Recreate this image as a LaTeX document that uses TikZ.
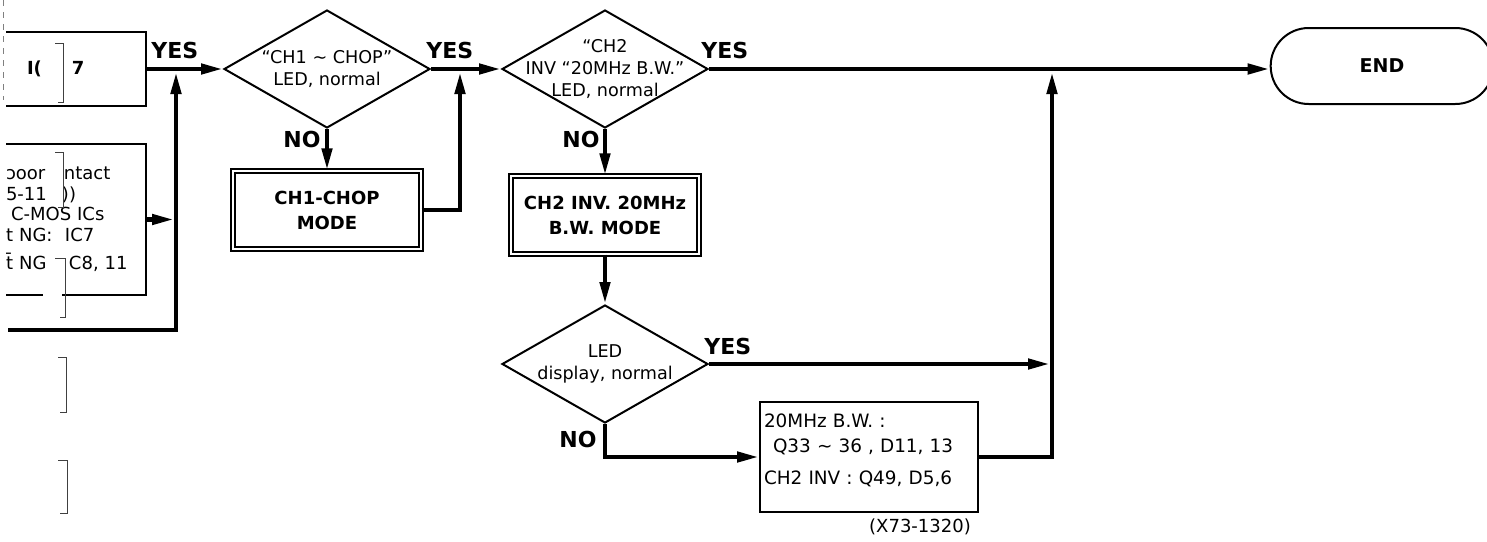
\documentclass[tikz,border=0pt]{standalone}
\usepackage{fontspec}
\setmainfont{DejaVu Sans}
\usepackage{tikz}
\usetikzlibrary{shapes.geometric, shapes.misc, arrows.meta, positioning}

\begin{document}
\begin{tikzpicture}[
    x=0.5pt, y=-0.5pt,
    decision/.style={
        diamond, draw=black, line width=1pt, inner sep=0pt,
        minimum width=103pt, minimum height=59pt
    },
    dtext/.style={align=center, inner sep=0pt, font=\fontsize{8.8}{11}\selectfont},
    modebox/.style={
        rectangle, draw=black, line width=0.7pt, double, double distance=1.3pt,
        minimum width=94pt, minimum height=39pt,
        align=center, font=\fontsize{9}{12.5}\selectfont\bfseries
    },
    cutbox/.style={
        rectangle, draw=black, line width=1pt, align=left,
        text width=66pt, inner xsep=4pt, inner ysep=0pt,
        font=\fontsize{9}{10.25}\selectfont
    },
    partsbox/.style={
        rectangle, draw=black, line width=1pt, align=left,
        text width=105pt, inner xsep=2pt, minimum height=55pt,
        font=\fontsize{9.2}{12.5}\selectfont
    },
    endbox/.style={
        rounded rectangle, draw=black, line width=1pt,
        minimum width=118pt, minimum height=38pt,
        font=\fontsize{9.5}{11}\selectfont\bfseries
    },
    arrow/.style={-{Triangle[length=11pt, width=5pt]}, line width=2.2pt},
    joinarrow/.style={arrow, shorten >=1.5pt},
    yeslabel/.style={inner sep=0pt, font=\fontsize{11}{13}\selectfont\bfseries},
    foldmark/.style={line width=0.5pt, black!75}
]
\useasboundingbox (0,0) rectangle (1487,541);

% Boxes cut off at the left edge of the page
\begin{scope}
\clip (6,0) rectangle (300,541);
\node[cutbox, anchor=east, minimum height=37pt, font=\fontsize{9}{10.25}\selectfont\bfseries] (icbox) at (147,69) {\hspace*{10.5pt}\makebox[22.5pt][l]{I(}7};
\node[cutbox, anchor=north east, minimum height=75.5pt] (cmosbox) at (147,143) {\makebox[29pt][l]{ɔoor}ntact\\
\makebox[28pt][l]{5-11}))\\
\hspace*{2.5pt}C-MOS ICs\\
\makebox[29.5pt][l]{t NG:}IC7\\[4pt]
\makebox[31.5pt][l]{t̄ NG}C8, 11};
\end{scope}
\fill[white] (43,290) rectangle (62,298);

% Checks and modes
\node[decision, label={[dtext]center:{“CH1 ∼ CHOP”\\LED,  normal}}] (chopled) at (327,69) {};
\node[modebox] (chopmode) at (327,210) {CH1-CHOP\\MODE};
\node[decision, label={[dtext]center:{“CH2\\INV “20MHz B.W.”\\LED, normal}}] (invled) at (605,69) {};
\node[modebox] (invmode) at (605,215) {CH2 INV. 20MHz\\B.W. MODE};
\node[decision, label={[dtext]center:{LED\\display, normal}}] (display) at (605,364) {};
\node[partsbox] (repair) at (869,457) {20MHz B.W. :\\
\hspace*{4.5pt}Q33 ∼ 36 , D11, 13\\[3.5pt]
CH2 INV : Q49, D5,6\\[-5pt]\mbox{}};
\node[endbox] (finish) at (1382,66) {END};

% Junctions
\coordinate (feed) at (8,330);
\coordinate (joinA) at (176,69);
\coordinate (joinB) at (460,69);
\coordinate (joinC) at (1052,69);
\coordinate (joinD) at (1052,364);

% Connectors
\draw[arrow] (icbox.east) -- (chopled.west);
\draw[joinarrow] (feed) -| (joinA);
\draw[arrow, shorten >=1pt] (cmosbox.east) -- (cmosbox.east -| joinA);
\draw[arrow] (chopled.east) -- (invled.west);
\draw[arrow] (chopled.south) -- (chopmode.north);
\draw[joinarrow] (chopmode.east) -| (joinB);
\draw[arrow] (invled.east) -- (invled.east -| finish.west);
\draw[arrow] (invled.south) -- (invmode.north);
\draw[arrow] (invmode.south) -- (display.north);
\draw[arrow, shorten >=1pt] (display.east) -- (joinD);
\draw[arrow] (display.south) |- (repair.west);
\draw[joinarrow] (repair.east) -| (joinC);

% YES / NO labels
\node[yeslabel, above right=5pt and 2pt of icbox.east] (yesA) {YES};
\node[yeslabel, above right=5pt and -2.5pt of chopled.east] (yesB) {YES};
\node[yeslabel, above right=5pt and -4pt of invled.east] (yesC) {YES};
\node[yeslabel, above right=4.5pt and -2.5pt of display.east] (yesD) {YES};
\node[yeslabel, below left=1pt and 3pt of chopled.south] (noA) {NO};
\node[yeslabel, below left=1pt and 2.5pt of invled.south] (noB) {NO};
\node[yeslabel, below left=3.5pt and 4pt of display.south] (noC) {NO};

% Figure number
\node[font=\fontsize{9}{11}\selectfont] (figno) at (920,527) {(X73-1320)};

% Fold marks of the scan
\draw[black!50, line width=0.4pt, dashed] (3,0) -- (3,100);
\draw[foldmark] (55,43) -- (63,43) -- (63,102) -- (58,102);
\draw[foldmark] (55,152) -- (63,152) -- (63,207) -- (58,207);
\draw[foldmark] (55,258) -- (65,258) -- (65,317) -- (60,317);
\draw[foldmark] (58,357) -- (66,357) -- (66,412) -- (60,412);
\draw[foldmark] (58,460) -- (67,460) -- (67,513) -- (60,513);

\end{tikzpicture}
\end{document}
